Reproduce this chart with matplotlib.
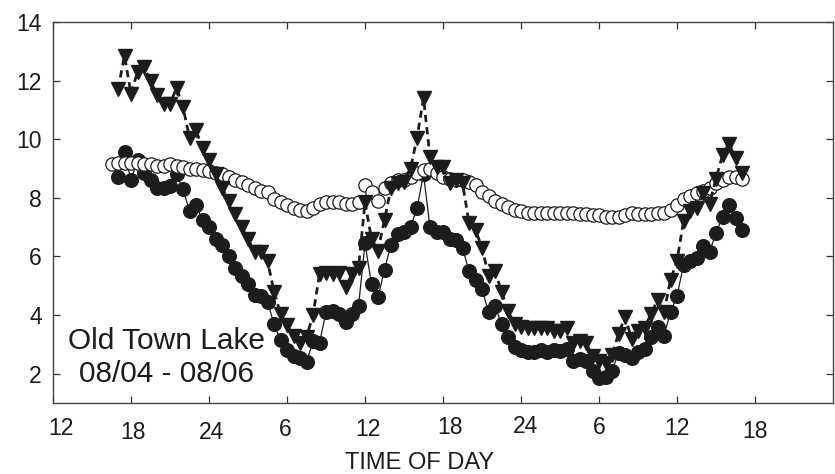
import matplotlib

matplotlib.use("Agg")
import matplotlib.pyplot as plt

plt.rcParams["font.family"] = ["Liberation Sans", "DejaVu Sans"]

# sampling times in hours since midnight 08/04 (half-hour logger interval)
hours = [
    17.0, 17.5, 18.0, 18.5, 19.0, 19.5, 20.0, 20.5, 21.0, 21.5,
    22.0, 22.5, 23.0, 23.5, 24.0, 24.5, 25.0, 25.5, 26.0, 26.5,
    27.0, 27.5, 28.0, 28.5, 29.0, 29.5, 30.0, 30.5, 31.0, 31.5,
    32.0, 32.5, 33.0, 33.5, 34.0, 34.5, 35.0, 35.5, 36.0, 36.5,
    37.0, 37.5, 38.0, 38.5, 39.0, 39.5, 40.0, 40.5, 41.0, 41.5,
    42.0, 42.5, 43.0, 43.5, 44.0, 44.5, 45.0, 45.5, 46.0, 46.5,
    47.0, 47.5, 48.0, 48.5, 49.0, 49.5, 50.0, 50.5, 51.0, 51.5,
    52.0, 52.5, 53.0, 53.5, 54.0, 54.5, 55.0, 55.5, 56.0, 56.5,
    57.0, 57.5, 58.0, 58.5, 59.0, 59.5, 60.0, 60.5, 61.0, 61.5,
    62.0, 62.5, 63.0, 63.5, 64.0, 64.5, 65.0,
]
hours_open = [16.5] + hours

# filled circles, solid line
filled = [
    8.70, 9.55, 8.60, 9.30, 8.85, 8.60, 8.35, 8.35, 8.40, 8.80,
    8.30, 7.55, 7.75, 7.25, 7.00, 6.60, 6.40, 6.00, 5.60, 5.35,
    5.05, 4.70, 4.65, 4.45, 3.70, 3.15, 2.80, 2.60, 2.55, 2.40,
    3.10, 3.05, 4.10, 4.15, 4.05, 3.75, 4.05, 4.30, 6.45, 5.05,
    4.60, 5.55, 6.40, 6.75, 6.85, 7.00, 7.65, 8.80, 7.00, 6.85,
    6.85, 6.60, 6.55, 6.30, 5.50, 5.20, 4.90, 4.10, 4.30, 3.70,
    3.25, 2.90, 2.80, 2.75, 2.75, 2.80, 2.75, 2.80, 2.78, 2.85,
    2.45, 2.50, 2.45, 2.10, 1.85, 1.88, 2.10, 2.70, 2.65, 2.55,
    2.75, 2.85, 3.25, 3.60, 3.30, 4.10, 4.65, 5.70, 5.85, 5.95,
    6.35, 6.15, 6.80, 7.35, 7.75, 7.30, 6.90,
]

# filled triangles, dashed line
triangles = [
    11.70, 12.85, 11.55, 12.30, 12.45, 12.00, 11.50, 11.20, 11.20, 11.75,
    11.10, 10.05, 10.30, 9.70, 9.30, 8.80, 8.35, 7.90, 7.45, 7.00,
    6.60, 6.15, 6.15, 5.85, 4.80, 4.05, 3.65, 3.30, 3.05, 3.25,
    4.00, 5.40, 5.45, 5.40, 5.45, 4.95, 5.40, 5.60, 7.85, 6.60,
    6.20, 7.25, 8.35, 8.50, 8.55, 9.00, 10.05, 11.40, 9.40, 9.05,
    9.05, 8.50, 8.60, 8.50, 7.15, 6.90, 6.30, 5.35, 5.50, 4.80,
    4.15, 3.70, 3.60, 3.55, 3.55, 3.55, 3.55, 3.45, 3.45, 3.55,
    3.05, 3.10, 3.05, 2.60, 2.45, 2.35, 2.65, 3.35, 3.95, 3.20,
    3.45, 3.55, 4.05, 4.50, 4.10, 5.20, 5.85, 7.20, 7.55, 7.65,
    8.15, 7.80, 8.65, 9.45, 9.85, 9.35, 8.85,
]

# open circles
open_circles = [
    9.15,
    9.20, 9.20, 9.20, 9.20, 9.15, 9.15, 9.10, 9.10, 9.15, 9.10,
    9.05, 9.00, 9.00, 8.95, 8.90, 8.85, 8.80, 8.70, 8.60, 8.55,
    8.45, 8.35, 8.25, 8.20, 7.95, 7.85, 7.75, 7.67, 7.60, 7.55,
    7.65, 7.80, 7.85, 7.85, 7.85, 7.80, 7.78, 7.85, 8.45, 8.20,
    7.90, 8.35, 8.50, 8.60, 8.60, 8.70, 8.85, 8.95, 9.00, 8.85,
    8.70, 8.65, 8.60, 8.60, 8.55, 8.45, 8.20, 8.05, 7.90, 7.80,
    7.70, 7.60, 7.55, 7.50, 7.50, 7.48, 7.48, 7.48, 7.48, 7.48,
    7.50, 7.45, 7.45, 7.42, 7.40, 7.35, 7.33, 7.35, 7.40, 7.48,
    7.45, 7.45, 7.45, 7.50, 7.50, 7.60, 7.75, 7.95, 8.05, 8.15,
    8.25, 8.35, 8.50, 8.60, 8.70, 8.70, 8.65,
]

xtick_pos = [12, 18, 24, 30, 36, 42, 48, 54, 60, 66]
xtick_labels = ["12", "18", "24", "6", "12", "18", "24", "6", "12", "18"]
# hand-set hour labels are slightly uneven (points, right / down)
xtick_nudge = [(6, 0), (1.5, 3), (2, 3), (-1.5, 0.5), (2, 0.5),
               (5, -1), (3, -1.5), (0.5, -1), (0, 0), (0, 2)]
ytick_pos = [2, 4, 6, 8, 10, 12, 14]

ink = "#1c1c1c"

fig = plt.figure(figsize=(8.35, 4.74), dpi=100)
ax = fig.add_axes([53 / 835, 71 / 474, 780 / 835, 381 / 474])

ax.plot(hours, filled, linestyle="-", lw=0.9, color=ink,
        marker="o", ms=9.8, zorder=2)
ax.plot(hours_open, open_circles, linestyle="none", marker="o", ms=9.6,
        mfc="white", mec=ink, mew=0.9, zorder=3)
ax.plot(hours, triangles, linestyle="--", dashes=(2.6, 1.8), lw=2.0, color=ink,
        marker="v", ms=10, zorder=4)

ax.set_xlim(12, 72)
ax.set_ylim(1, 14)
ax.set_xticks(xtick_pos)
ax.set_xticklabels([])
ax.set_yticks(ytick_pos)

xaxis_tf = ax.get_xaxis_transform()
for pos, lab, (dx, dy) in zip(xtick_pos, xtick_labels, xtick_nudge):
    ax.annotate(lab, xy=(pos, 0), xycoords=xaxis_tf,
                xytext=(dx, -10 - dy), textcoords="offset points",
                ha="center", va="top", fontsize=16.5, color=ink,
                annotation_clip=False)

ax.tick_params(axis="both", direction="in", length=5, width=0.9,
               top=True, right=True, labelsize=16.5, colors="#333333",
               labelcolor=ink)
ax.tick_params(axis="y", pad=8)
for spine in ax.spines.values():
    spine.set_color("#444444")
    spine.set_linewidth(1.0)

ax.text(0.47, -0.172, "TIME OF DAY", transform=ax.transAxes, fontsize=17,
        color=ink, ha="center", va="baseline")

ax.text(20.7, 2.55, "Old Town Lake\n08/04 - 08/06", fontsize=21.5, color=ink,
        ha="center", va="center", multialignment="center", linespacing=1.2)

fig.savefig("out.png", dpi=100)
